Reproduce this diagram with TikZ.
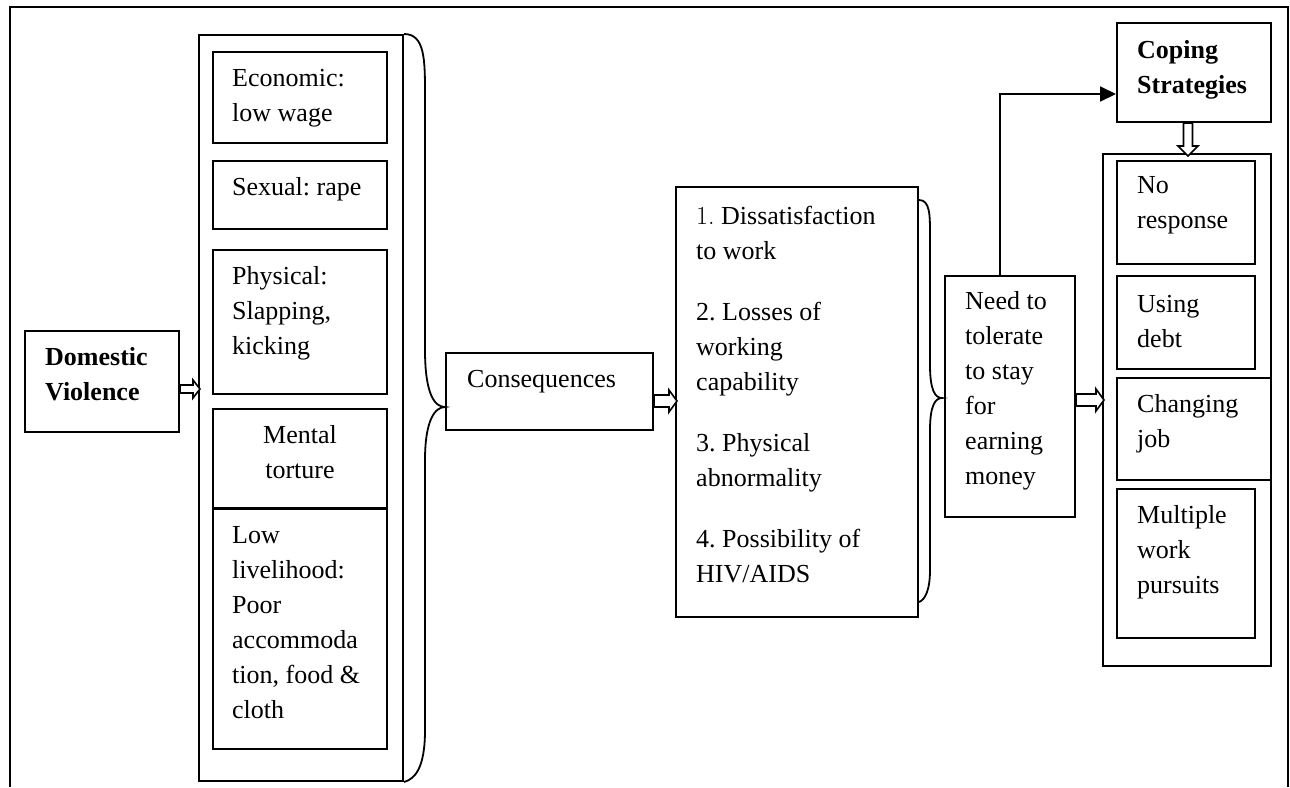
\documentclass[tikz,border=0pt]{standalone}
\usepackage{fontspec}
\setmainfont{Liberation Serif}
\newfontfamily\lmfont{Latin Modern Roman}
\usetikzlibrary{arrows.meta,calc}
\newcommand\fs{\fontsize{26}{35}\selectfont\frenchspacing}
% right-pointing hollow block arrow: #1 start coord, #2 length, #3 shaft half, #4 head half, #5 head length
\newcommand\blockR[5]{%
  \draw[blk] ($#1+(0,-#3)$) -- ($#1+(#2-#5,-#3)$) -- ($#1+(#2-#5,-#4)$) -- ($#1+(#2,0)$)
    -- ($#1+(#2-#5,#4)$) -- ($#1+(#2-#5,#3)$) -- ($#1+(0,#3)$) -- cycle;}
% downward hollow block arrow
\newcommand\blockD[5]{%
  \draw[blk] ($#1+(-#3,0)$) -- ($#1+(-#3,#2-#5)$) -- ($#1+(-#4,#2-#5)$) -- ($#1+(0,#2)$)
    -- ($#1+(#4,#2-#5)$) -- ($#1+(#3,#2-#5)$) -- ($#1+(#3,0)$) -- cycle;}
\begin{document}
\begin{tikzpicture}[x=1pt,y=-1pt,
  box/.style={draw, line width=2pt, anchor=north west, inner sep=0pt},
  txt/.style={anchor=north west, inner sep=0pt, align=left, font=\fs},
  blk/.style={draw, line width=1.6pt, fill=white, line join=miter},
  brace/.style={draw, line width=1.8pt},
  frame/.style={draw, line width=1.8pt}]
\useasboundingbox (0,0) rectangle (1290,787);
\draw[frame] (10,787) -- (10,7) -- (1288,7) -- (1288,787);

% boxes
\node[box, minimum width=154pt, minimum height=101pt] (dv) at (24,330) {};
\node[box, minimum width=204pt, minimum height=746pt] (big) at (198,34) {};
\node[box, minimum width=174pt, minimum height=91pt] (econ) at (212,51) {};
\node[box, minimum width=174pt, minimum height=68pt] (sex) at (212,160) {};
\node[box, minimum width=174pt, minimum height=144pt] (phys) at (212,249) {};
\node[box, minimum width=174pt, minimum height=99pt] (ment) at (212,408) {};
\node[box, minimum width=174pt, minimum height=240pt] (low) at (212,508) {};
\node[box, minimum width=207pt, minimum height=77pt] (cons) at (445,352) {};
\node[box, minimum width=242pt, minimum height=430pt] (list) at (675,186) {};
\node[box, minimum width=130pt, minimum height=241pt] (need) at (944,275) {};
\node[box, minimum width=154pt, minimum height=99pt] (cope) at (1116,22) {};
\node[box, minimum width=168pt, minimum height=512pt] (rbox) at (1102,153) {};
\node[box, minimum width=138pt, minimum height=103pt] (nores) at (1116,160) {};
\node[box, minimum width=138pt, minimum height=93pt] (debt) at (1116,275) {};
\node[box, minimum width=154pt, minimum height=102pt] (chg) at (1116,377) {};
\node[box, minimum width=138pt, minimum height=149pt] (mult) at (1116,488) {};

% texts
\node[txt, font=\fs\bfseries] (tdv) at ($(dv.north west)+(21,10.5)$) {\strut Domestic\\Violence};
\node[txt] (tecon) at ($(econ.north west)+(20,10.5)$) {\strut Economic:\\low wage};
\node[txt] (tsex) at ($(sex.north west)+(20,10.5)$) {\strut Sexual: rape};
\node[txt] (tphys) at ($(phys.north west)+(20,11)$) {\strut Physical:\\Slapping,\\kicking};
\node[txt, anchor=north, align=center] (tment) at ($(ment.north)+(0,10.5)$) {\strut Mental\\torture};
\node[txt] (tlow) at ($(low.north west)+(20,10.5)$) {\strut Low\\livelihood:\\Poor\\accommoda\\tion, food \&\\cloth};
\node[txt] (tcons) at ($(cons.north west)+(22,10.5)$) {\strut Consequences};
\node[txt] (tlist) at ($(list.north west)+(21,14)$) {\strut{\lmfont 1.} Dissatisfaction\\to work\\[26pt]2. Losses of\\working\\capability\\[26pt]3. Physical\\abnormality\\[26pt]4. Possibility of\\HIV/AIDS};
\node[txt] (tneed) at ($(need.north west)+(21,9.5)$) {\strut Need to\\tolerate\\to stay\\for\\earning\\money};
\node[txt, font=\fs\bfseries] (tcope) at ($(cope.north west)+(21,11.5)$) {\strut Coping\\Strategies};
\node[txt] (tnores) at ($(nores.north west)+(21,8.5)$) {\strut No\\response};
\node[txt] (tdebt) at ($(debt.north west)+(21,12.5)$) {\strut Using\\debt};
\node[txt] (tchg) at ($(chg.north west)+(21,10.5)$) {\strut Changing\\job};
\node[txt] (tmult) at ($(mult.north west)+(21,10.5)$) {\strut Multiple\\work\\pursuits};

% braces
\coordinate (ltip) at ($(cons.north west)+(0,55)$);
\draw[brace] (big.north east) .. controls (425,34) and (425,60) .. (425,95) -- (425,350)
  .. controls (425,395) and (435,407) .. (ltip)
  .. controls (435,407) and (425,420) .. (425,460) -- (425,730)
  .. controls (425,768) and (415,779) .. (big.south east);
\coordinate (rtop) at ($(list.north east)+(0,14)$);
\coordinate (rbot) at ($(list.south east)+(0,-16)$);
\coordinate (rtip) at ($(need.north west)+(-2,123)$);
\draw[brace] (rtop) .. controls (930,200) and (930,215) .. (930,235) -- (930,365)
  .. controls (930,390) and (935,398) .. (rtip)
  .. controls (935,398) and (930,406) .. (930,430) -- (930,570)
  .. controls (930,590) and (925,600) .. (rbot);

% hollow block arrows
\coordinate (a1) at ($(dv.east)+(0,7.5)$);
\blockR{(a1)}{20}{4}{9}{7}
\coordinate (a2) at ($(cons.east)+(0,9.5)$);
\blockR{(a2)}{23}{6}{11}{8}
\coordinate (a3) at ($(need.east)+(0,3.5)$);
\blockR{(a3)}{28}{6}{11}{8}
\coordinate (a4) at ($(cope.south)+(-6,0)$);
\blockD{(a4)}{33}{4.5}{10}{10}

% line arrow to coping strategies
\draw[line width=1.8pt, -{Triangle[length=16pt,width=15pt]}] ($(need.north)+(-10,0)$) |- ($(cope.west)+(0,21.5)$);
\end{tikzpicture}
\end{document}
